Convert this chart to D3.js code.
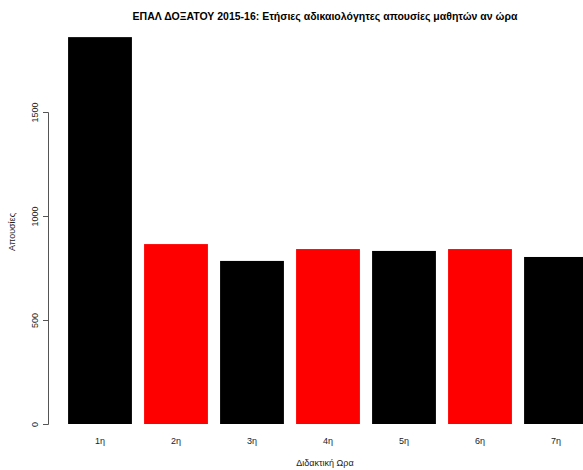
<!DOCTYPE html>
<html><head><meta charset="utf-8">
<script src="https://cdn.jsdelivr.net/npm/d3@7"></script>
<style>body{margin:0;background:#fff}svg{display:block}</style>
</head><body><svg id="c" width="583" height="470"></svg>
<script>
const categories = ["1η","2η","3η","4η","5η","6η","7η"];
const absences = [1860, 865, 784, 841, 832, 841, 803];
const barColors = ["#000000","#ff0000"];
const yTicks = [0, 500, 1000, 1500];

const svg = d3.select("#c");
const font = "Liberation Sans, Arial, sans-serif";

const y = d3.scaleLinear().domain([0, 1500]).range([424, 112]);
const x = d3.scaleBand().domain(categories).range([62, 594]).paddingInner(0.16).paddingOuter(0.08);

svg.selectAll("rect.bar").data(absences).join("rect")
  .attr("class", "bar")
  .attr("x", (d, i) => x(categories[i]))
  .attr("width", x.bandwidth())
  .attr("y", d => y(d))
  .attr("height", d => y(0) - y(d))
  .attr("fill", (d, i) => barColors[i % 2]);

// y axis, R style: labels parallel to the axis
const ax = svg.append("g").attr("transform", "translate(48,0)")
  .call(d3.axisLeft(y).tickValues(yTicks).tickSize(5).tickFormat(d3.format("d")));
ax.selectAll("path,line").attr("stroke", "#555");
ax.selectAll("text")
  .attr("font-family", font).attr("font-size", 9).attr("fill", "#222")
  .attr("x", 0).attr("y", 0).attr("dy", 0)
  .attr("text-anchor", "middle")
  .attr("transform", "translate(-10,0) rotate(-90)");

// x labels
svg.selectAll("text.xl").data(categories).join("text")
  .attr("class", "xl")
  .attr("x", d => x(d) + x.bandwidth() / 2)
  .attr("y", 444)
  .attr("text-anchor", "middle")
  .attr("font-family", font).attr("font-size", 9).attr("fill", "#222")
  .text(d => d);

svg.append("text").attr("x", 325).attr("y", 466).attr("text-anchor", "middle")
  .attr("font-family", font).attr("font-size", 9).attr("fill", "#222").text("Διδακτική Ωρα");

svg.append("text").attr("transform", "translate(15,232) rotate(-90)").attr("text-anchor", "middle")
  .attr("font-family", font).attr("font-size", 9).attr("fill", "#222").text("Απουσίες");

svg.append("text").attr("x", 325).attr("y", 20).attr("text-anchor", "middle")
  .attr("font-family", font).attr("font-size", 10.5).attr("font-weight", "bold").attr("fill", "#000")
  .text("ΕΠΑΛ ΔΟΞΑΤΟΥ 2015-16: Ετήσιες αδικαιολόγητες απουσίες μαθητών αν ώρα");
</script></body></html>
